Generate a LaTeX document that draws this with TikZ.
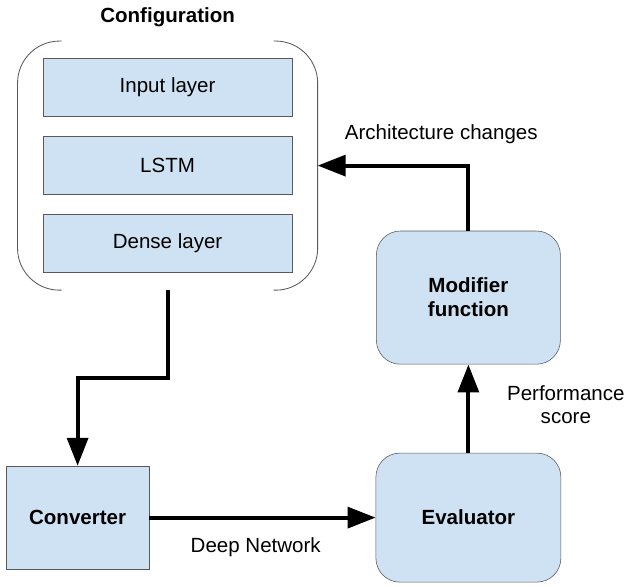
\documentclass[tikz,border=0pt]{standalone}
\usepackage{fontspec}
\setmainfont{Liberation Sans}
\usetikzlibrary{arrows.meta,fit}
\definecolor{boxblue}{HTML}{CFE2F3}
\definecolor{linegray}{HTML}{595959}
\newcommand{\diagfont}{\fontsize{14.6pt}{17pt}\selectfont}
\begin{document}
\begin{tikzpicture}[
  layer/.style={rectangle, draw=linegray, fill=boxblue, minimum width=6.225cm, minimum height=1.45cm},
  block/.style={rectangle, draw=linegray, fill=boxblue, font=\diagfont\bfseries, align=center},
  flow/.style={-{Triangle[length=7mm,width=5.2mm]}, line width=1mm},
  bracket/.style={draw=linegray, line width=0.6pt, rounded corners=1.05cm},
  node distance=1.95cm,
  font=\diagfont
]
\useasboundingbox (0,0) rectangle (15.725,-14.65);

\node[layer] (input) at (4.19,-2.19) {Input layer};
\node[layer, below of=input] (lstm) {LSTM};
\node[layer, below of=lstm] (dense) {Dense layer};
\node[fit=(input)(dense), inner xsep=0.625cm, inner ysep=0.425cm] (config) {};
\node[above of=config, node distance=3.72cm, font=\diagfont\bfseries] (title) {Configuration};

\draw[bracket] ([xshift=1.1cm]config.north west) -- (config.north west) -- (config.south west) -- ([xshift=1.1cm]config.south west);
\draw[bracket] ([xshift=-1.1cm]config.north east) -- (config.north east) -- (config.south east) -- ([xshift=-1.1cm]config.south east);

\node[block, minimum width=3.575cm, minimum height=2.575cm] (converter) at (1.94,-12.94) {Converter};
\node[block, right of=converter, node distance=9.77cm, minimum width=4.625cm, minimum height=3.225cm, rounded corners=0.6cm] (evaluator) {Evaluator};
\node[block, above of=evaluator, node distance=5.5cm, minimum width=4.6cm, minimum height=3.33cm, rounded corners=0.6cm] (modifier) {Modifier\\function};

\draw[flow] (config.south) -- ++(0,-2.2) -| (converter.north);
\draw[flow] (converter) -- node[below=0.33cm, pos=0.47] (netlbl) {Deep Network} (evaluator);
\draw[flow] (evaluator) -- node[right=0.8cm, align=center, yshift=0.1cm] (scorelbl) {Performance\\score} (modifier);
\draw[flow] (modifier.north) |- node[above=0.38cm, pos=0.59] (archlbl) {Architecture changes} (config.east);
\end{tikzpicture}
\end{document}
